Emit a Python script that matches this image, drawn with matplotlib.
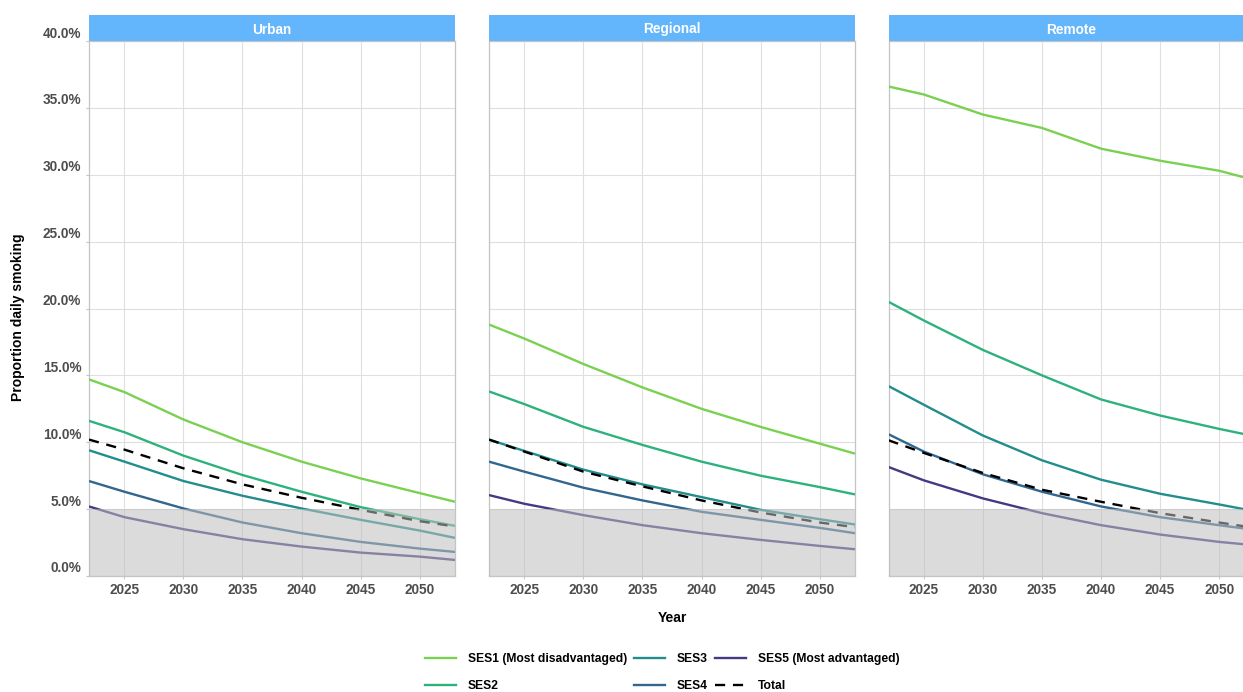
import numpy as np
import matplotlib
matplotlib.use("Agg")
import matplotlib.pyplot as plt
from matplotlib.lines import Line2D
from matplotlib.transforms import ScaledTranslation
from matplotlib.ticker import FuncFormatter, MultipleLocator

plt.rcParams["font.family"] = ["Liberation Sans", "DejaVu Sans"]
plt.rcParams["font.weight"] = "bold"

# ---- data: projected proportion of daily smokers (%) ----
years = [2022, 2025, 2030, 2035, 2040, 2045, 2050, 2053]
regions = ["Urban", "Regional", "Remote"]
groups = ["SES1 (Most disadvantaged)", "SES2", "SES3", "SES4", "SES5 (Most advantaged)"]

urban_ses1 = [14.7, 13.75, 11.7, 10.0, 8.55, 7.3, 6.2, 5.55]
urban_ses2 = [11.6, 10.75, 9.0, 7.55, 6.3, 5.15, 4.25, 3.75]
urban_ses3 = [9.4, 8.55, 7.1, 6.0, 5.05, 4.2, 3.4, 2.85]
urban_ses4 = [7.1, 6.3, 5.05, 4.0, 3.2, 2.55, 2.05, 1.8]
urban_ses5 = [5.2, 4.4, 3.5, 2.75, 2.2, 1.75, 1.45, 1.2]
urban_total = [10.2, 9.45, 8.05, 6.85, 5.85, 4.95, 4.1, 3.7]

regional_ses1 = [18.8, 17.75, 15.85, 14.1, 12.5, 11.15, 9.9, 9.15]
regional_ses2 = [13.8, 12.85, 11.15, 9.8, 8.55, 7.5, 6.65, 6.1]
regional_ses3 = [10.2, 9.35, 7.95, 6.85, 5.9, 4.95, 4.25, 3.85]
regional_ses4 = [8.55, 7.8, 6.6, 5.65, 4.8, 4.2, 3.6, 3.2]
regional_ses5 = [6.05, 5.4, 4.55, 3.8, 3.2, 2.7, 2.25, 2.0]
regional_total = [10.2, 9.3, 7.8, 6.7, 5.65, 4.75, 4.0, 3.65]

remote_ses1 = [36.6, 36.0, 34.5, 33.5, 31.95, 31.05, 30.3, 29.6]
remote_ses2 = [20.5, 19.1, 16.9, 15.0, 13.2, 12.0, 11.0, 10.45]
remote_ses3 = [14.2, 12.8, 10.5, 8.65, 7.2, 6.15, 5.35, 4.85]
remote_ses4 = [10.6, 9.3, 7.6, 6.3, 5.2, 4.4, 3.8, 3.45]
remote_ses5 = [8.15, 7.15, 5.8, 4.7, 3.8, 3.1, 2.55, 2.3]
remote_total = [10.15, 9.2, 7.7, 6.45, 5.55, 4.7, 4.0, 3.6]

series = {
    "Urban": [urban_ses1, urban_ses2, urban_ses3, urban_ses4, urban_ses5],
    "Regional": [regional_ses1, regional_ses2, regional_ses3, regional_ses4, regional_ses5],
    "Remote": [remote_ses1, remote_ses2, remote_ses3, remote_ses4, remote_ses5],
}
totals = {"Urban": urban_total, "Regional": regional_total, "Remote": remote_total}

# ---- styling ----
group_colors = [plt.cm.viridis(v) for v in np.linspace(0.8, 0.17, 5)]
LW = 1.7
TICK_COLOR = "#4D4D4D"
GRID_COLOR = "#DFDFDF"
BORDER_COLOR = "#C4C4C4"
STRIP_COLOR = "#63B5FC"
FS = 9.8

W, H = 1243, 692
fig = plt.figure(figsize=(W / 100, H / 100), dpi=100)

panel_left = [89, 489, 888.5]
panel_w, top_px, bottom_px, strip_h = 366, 41, 576, 26

def fx(px):
    return px / W

def fy(py):
    return 1 - py / H

ylabel_offset = ScaledTranslation(0, 9 / 100, fig.dpi_scale_trans)

for i, region in enumerate(regions):
    ax = fig.add_axes([fx(panel_left[i]), fy(bottom_px), fx(panel_w), (bottom_px - top_px) / H])
    for vals, col in zip(series[region], group_colors):
        ax.plot(years, vals, color=col, lw=LW, solid_capstyle="butt",
                solid_joinstyle="round", zorder=3)
    ax.plot(years, totals[region], color="black", lw=LW, dashes=(4.3, 3.3), zorder=4)
    # shaded band below the 5% target
    ax.axhspan(0, 5, facecolor="#BEBEBE", alpha=0.55, lw=0, zorder=5)

    ax.set_xlim(2022, 2053)
    ax.set_ylim(0, 40)
    ax.xaxis.set_major_locator(MultipleLocator(5))
    ax.yaxis.set_major_locator(MultipleLocator(5))
    ax.yaxis.set_major_formatter(FuncFormatter(lambda v, p: f"{v:.1f}%"))
    ax.grid(True, color=GRID_COLOR, lw=0.8, zorder=0)
    ax.set_axisbelow(True)
    for sp in ax.spines.values():
        sp.set_color(BORDER_COLOR)
        sp.set_linewidth(0.9)
    ax.tick_params(axis="both", length=2.2, width=0.8, color=BORDER_COLOR,
                   labelcolor=TICK_COLOR, labelsize=FS)
    ax.tick_params(axis="x", pad=2.6)
    ax.tick_params(axis="y", pad=3.3)
    if i == 0:
        for lab in ax.get_yticklabels():
            lab.set_transform(lab.get_transform() + ylabel_offset)
            lab.set_fontweight("bold")
    else:
        ax.tick_params(axis="y", length=0, labelleft=False)
    for lab in ax.get_xticklabels():
        lab.set_fontweight("bold")

    # facet strip
    sax = fig.add_axes([fx(panel_left[i]), fy(top_px), fx(panel_w), strip_h / H])
    sax.set_facecolor(STRIP_COLOR)
    sax.set_xticks([])
    sax.set_yticks([])
    for sp in sax.spines.values():
        sp.set_visible(False)
    sax.text(0.5, 0.5, region, transform=sax.transAxes, ha="center",
             va="center_baseline", color="white", fontsize=FS, fontweight="bold")

fig.text(fx(18), fy(317), "Proportion daily smoking", rotation=90, ha="center",
         va="center", fontsize=10, fontweight="bold", color="black")
fig.text(fx(672), fy(618), "Year", ha="center", va="center", fontsize=10,
         fontweight="bold", color="black")

handles = [Line2D([0], [0], color=c, lw=LW) for c in group_colors]
handles.append(Line2D([0], [0], color="black", lw=LW, dashes=(4.3, 3.3)))
labels = groups + ["Total"]
fig.legend(handles, labels, ncol=3, loc="center",
           bbox_to_anchor=(fx(662), fy(672.5)), frameon=False,
           prop={"size": 8.75, "weight": "bold"}, handlelength=2.6,
           handletextpad=0.95, columnspacing=0.55, labelspacing=1.25,
           borderpad=0, borderaxespad=0)

fig.savefig("out.png", dpi=100)
